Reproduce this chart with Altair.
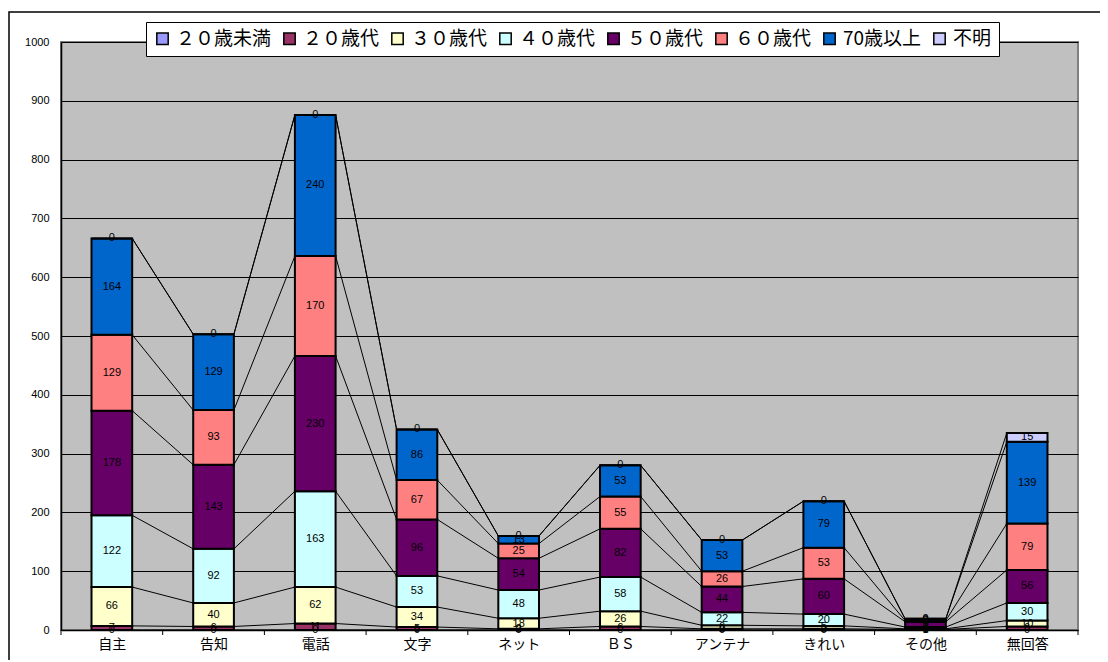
import json
import altair as alt
import pandas as pd

categories = ["自主", "告知", "電話", "文字", "ネット", "ＢＳ", "アンテナ", "きれい", "その他", "無回答"]
series = ["２０歳未満", "２０歳代", "３０歳代", "４０歳代", "５０歳代", "６０歳代", "70歳以上", "不明"]
colors = ["#9999FF", "#993366", "#FFFFCC", "#CCFFFF", "#660066", "#FF8080", "#0066CC", "#CCCCFF"]

v_u20 = [0, 0, 0, 0, 0, 0, 0, 0, 0, 0]
v_20 = [7, 6, 11, 5, 2, 6, 2, 2, 1, 6]
v_30 = [66, 40, 62, 34, 18, 26, 6, 5, 1, 10]
v_40 = [122, 92, 163, 53, 48, 58, 22, 20, 3, 30]
v_50 = [178, 143, 230, 96, 54, 82, 44, 60, 9, 56]
v_60 = [129, 93, 170, 67, 25, 55, 26, 53, 2, 79]
v_70 = [164, 129, 240, 86, 13, 53, 53, 79, 3, 139]
v_unk = [0, 0, 0, 0, 0, 0, 0, 0, 0, 15]

y_ticks = [0, 100, 200, 300, 400, 500, 600, 700, 800, 900, 1000]

all_vals = [v_u20, v_20, v_30, v_40, v_50, v_60, v_70, v_unk]

# segment table
rows = []
tops = {}
for ci, cat in enumerate(categories):
    cum = 0
    for si, s in enumerate(series):
        v = all_vals[si][ci]
        rows.append({"i": ci, "cat": cat, "series": s, "order": si,
                     "value": v, "y0": cum, "y1": cum + v, "mid": cum + v / 2})
        cum += v
        tops[(s, ci)] = cum
seg = pd.DataFrame(rows)

# series lines between adjacent bars
lrows = []
for s in series:
    for ci in range(len(categories) - 1):
        lrows.append({"series": s, "i": ci, "j": ci + 1,
                      "ya": tops[(s, ci)], "yb": tops[(s, ci + 1)]})
lines = pd.DataFrame(lrows)

bounds = pd.DataFrame({"b": [k + 0.5 for k in range(-1, len(categories))]})

W, H = 1017, 588
xscale = alt.Scale(domain=[-0.5, len(categories) - 0.5], nice=False, zero=False)
yscale = alt.Scale(domain=[0, 1000], nice=False)

label_expr = json.dumps(categories, ensure_ascii=False) + "[datum.value]"

frame = alt.Chart(pd.DataFrame({"a": [0]})).mark_rect(
    fill="transparent", stroke="#000000", strokeWidth=1.5
).encode(x=alt.value(-52), y=alt.value(-30), x2=alt.value(1200), y2=alt.value(700))

series_lines = alt.Chart(lines).mark_rule(color="black", strokeWidth=1).transform_calculate(
    xa="datum.i + 0.2", xb="datum.j - 0.2"
).encode(
    x=alt.X("xa:Q", scale=xscale),
    x2="xb:Q",
    y=alt.Y("ya:Q", scale=yscale),
    y2="yb:Q",
)

bars = alt.Chart(seg).mark_rect(stroke="black", strokeWidth=2).transform_calculate(
    xl="datum.i - 0.2", xr="datum.i + 0.2"
).encode(
    x=alt.X("xl:Q", scale=xscale,
            axis=alt.Axis(values=list(range(len(categories))), labelExpr=label_expr,
                          title=None, grid=False, ticks=False, domainColor="black",
                          domainWidth=1.5, labelFont="Noto Sans CJK JP", labelFontSize=14,
                          labelColor="black", labelPadding=7)),
    x2="xr:Q",
    y=alt.Y("y0:Q", scale=yscale,
            axis=alt.Axis(values=y_ticks, format="d", title=None, grid=True,
                          gridColor="black", gridWidth=1, gridOpacity=1, ticks=False,
                          domainColor="black", domainWidth=1.5,
                          labelFont="Liberation Sans", labelFontSize=11,
                          labelColor="black", labelPadding=12)),
    y2="y1:Q",
    color=alt.Color("series:N", scale=alt.Scale(domain=series, range=colors),
                    sort=series,
                    legend=alt.Legend(title=None, orient="none", legendX=85, legendY=-20,
                                      direction="horizontal", columns=8,
                                      fillColor="white", strokeColor="black",
                                      padding=7, symbolType="square", symbolSize=130,
                                      symbolStrokeColor="black", symbolStrokeWidth=1.5,
                                      symbolOpacity=1,
                                      labelFont="Noto Sans CJK JP", labelFontSize=19,
                                      labelColor="black", columnPadding=8,
                                      labelLimit=200)),
    order=alt.Order("order:Q"),
)

xticks = alt.Chart(bounds).mark_rule(color="black", strokeWidth=1).encode(
    x=alt.X("b:Q", scale=xscale), y=alt.value(H), y2=alt.value(H + 5)
)

labels = alt.Chart(seg).mark_text(font="Liberation Sans", fontSize=11, color="black",
                                  baseline="middle").encode(
    x=alt.X("i:Q", scale=xscale),
    y=alt.Y("mid:Q", scale=yscale),
    text=alt.Text("value:Q"),
)

chart = alt.layer(frame, series_lines, bars, xticks, labels).properties(
    width=W, height=H,
    autosize=alt.AutoSizeParams(type="none"),
    padding={"left": 53, "top": 34, "right": 22, "bottom": 30},
    background="white",
).configure_view(fill="#C0C0C0", stroke="#808080", strokeWidth=2)

chart.save("out.html", embed_options={"renderer": "svg", "actions": False})
